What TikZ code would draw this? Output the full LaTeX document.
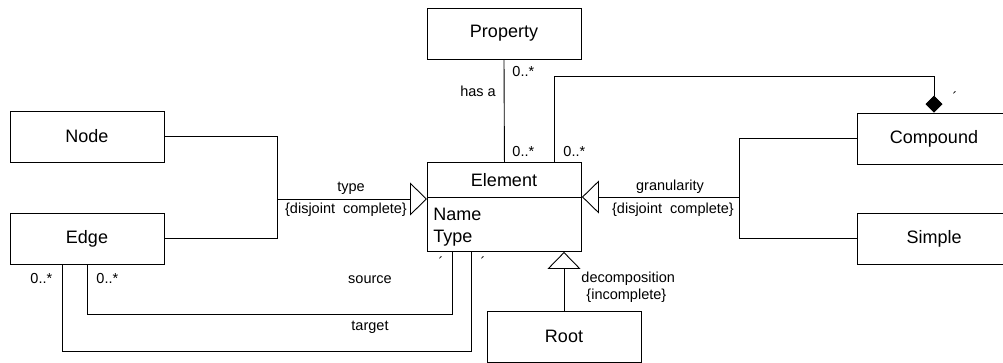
\documentclass[tikz,border=0pt]{standalone}
\usepackage{fontspec}
\setmainfont{Liberation Sans}
\usetikzlibrary{arrows.meta}

\begin{document}
\begin{tikzpicture}[x=1pt,y=-1pt,line width=0.9pt,
  box/.style={draw,fill=white,minimum width=154pt,minimum height=51pt,inner sep=0pt,
              font=\fontsize{18}{20}\selectfont},
  attr/.style={inner sep=0pt,anchor=base west,font=\fontsize{18}{20}\selectfont},
  lbl/.style={inner sep=0pt,font=\fontsize{14.5}{16}\selectfont},
  gen/.style={-{Triangle[length=17pt,width=33pt,fill=white]}},
  comp/.style={-{Diamond[length=17pt,width=17pt]}}]
\useasboundingbox (0,0) rectangle (1003,363);
\clip (0,0) rectangle (1003,363);

% classes
\node[box] (prop) at (504,33.5) {Property};
\node[box,minimum height=89pt,anchor=north west] (elem) at (427,162) {};
\node[inner sep=0pt,font=\fontsize{18}{20}\selectfont] (elemname) at (504,180) {Element};
\coordinate (divl) at (427,197);
\coordinate (divr) at (581,197);
\draw (divl) -- (divr);
\node[attr] (aname) at (433,221) {Name};
\node[attr] (atype) at (433,243) {Type};
\node[box] (node) at (87,136.5) {Node};
\node[box] (edge) at (87,238.5) {Edge};
\node[box] (comp) at (934,138.5) {Compound};
\node[box] (simple) at (934,238.5) {Simple};
\node[box] (root) at (564,336.5) {Root};

% has a
\draw (prop.south) -- (elem.north);
\node[lbl] (hasa) at (478,91) {has a};
\node[lbl,anchor=west] (m1) at (512,72) {0..*};
\node[lbl,anchor=west] (m2) at (512,152) {0..*};

% composition
\coordinate (ctop) at (554,76);
\draw[comp] (elem.north -| ctop) -- (ctop) -| (comp.north);
\node[lbl,anchor=west] (m3) at (563,152) {0..*};
\node[lbl] (m4) at (955,97) {´};

% type generalization
\coordinate (tj) at (277,199);
\draw (node.east) -| (tj |- edge.east) -- (edge.east);
\draw[gen] (tj) -- (tj -| elem.west);
\node[lbl] (ttype) at (351,188) {type};
\node[lbl] (tdis) at (346,210) {\{disjoint\ \ complete\}};

% granularity generalization
\coordinate (gj) at (739,197);
\draw (comp.west) -| (gj |- simple.west) -- (simple.west);
\draw[gen] (gj) -- (gj -| elem.east);
\node[lbl] (gran) at (670,187) {granularity};
\node[lbl] (gdis) at (673,210) {\{disjoint\ \ complete\}};

% decomposition
\draw[gen] (root.north) -- (root.north |- elem.south);
\node[lbl,anchor=west] (dec) at (581,279) {decomposition};
\node[lbl,anchor=west] (inc) at (586,296) {\{incomplete\}};

% source and target
\coordinate (s1) at (87,314);
\coordinate (s2) at (452,314);
\draw (s1 |- edge.south) -- (s1) -- (s2) -- (s2 |- elem.south);
\coordinate (t1) at (62,351);
\coordinate (t2) at (471,351);
\draw (t1 |- edge.south) -- (t1) -- (t2) -- (t2 |- elem.south);
\node[lbl] (src) at (370,280) {source};
\node[lbl] (tgt) at (370,327) {target};
\node[lbl,anchor=west] (m5) at (30,279) {0..*};
\node[lbl,anchor=west] (m6) at (96,279) {0..*};
\node[lbl] (m7) at (441,262) {´};
\node[lbl] (m8) at (483,262) {´};
\end{tikzpicture}
\end{document}
